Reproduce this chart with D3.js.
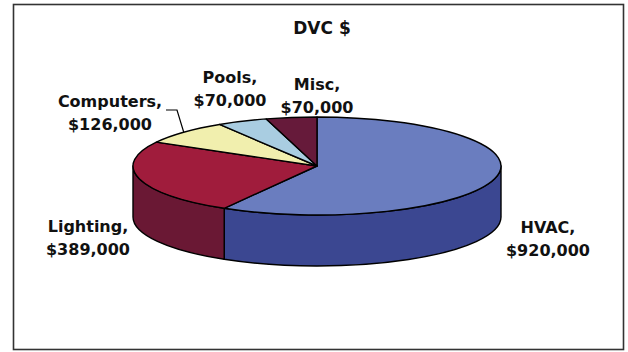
<!DOCTYPE html>
<html>
<head>
<meta charset="utf-8">
<script src="https://cdn.jsdelivr.net/npm/d3@7"></script>
<style>
  html, body { margin: 0; padding: 0; background: #fff; }
  svg { display: block; }
  text { font-family: "DejaVu Sans", Verdana, sans-serif; font-weight: bold; fill: #111; }
</style>
</head>
<body>
<svg id="chart" width="628" height="352"></svg>
<script>
// Energy spend by end use
const categories = ["HVAC", "Lighting", "Computers", "Pools", "Misc"];
const values = [920000, 389000, 126000, 70000, 70000];
const topColors = ["#6a7dbf", "#a01c3c", "#f1efae", "#a9cde1", "#661a3a"];
const sideColors = ["#3b4791", "#6a1834", "#b8b67a", "#7796a8", "#4a1029"];
const title = "DVC $";

const W = 628, H = 352;
const svg = d3.select("#chart");

// frame around the chart
svg.append("rect")
  .attr("x", 13.5).attr("y", 4.5)
  .attr("width", 610).attr("height", 345)
  .attr("fill", "#fff")
  .attr("stroke", "#333").attr("stroke-width", 1.6);

svg.append("text")
  .attr("x", 322).attr("y", 34)
  .attr("text-anchor", "middle")
  .style("font-size", "17px")
  .text(title);

// 3-D pie geometry
const cx = 317, cy = 166, rx = 184, ry = 49, depth = 51;

const pie = d3.pie().sort(null).startAngle(0).endAngle(2 * Math.PI);
const arcs = pie(values);

const color = d3.scaleOrdinal().domain(categories).range(topColors);
const sideColor = d3.scaleOrdinal().domain(categories).range(sideColors);

const pt = (a, dy = 0) => [cx + rx * Math.sin(a), cy - ry * Math.cos(a) + dy];

// outer walls: only the front half (angles π/2 .. 3π/2) faces the viewer
const walls = svg.append("g");
arcs.forEach((d, i) => {
  const a0 = Math.max(d.startAngle, Math.PI / 2);
  const a1 = Math.min(d.endAngle, 3 * Math.PI / 2);
  if (a1 <= a0) return;
  const [x0, y0] = pt(a0), [x1, y1] = pt(a1);
  const [bx1, by1] = pt(a1, depth), [bx0, by0] = pt(a0, depth);
  const path = `M${x0},${y0} A${rx},${ry} 0 0 1 ${x1},${y1} L${bx1},${by1} A${rx},${ry} 0 0 0 ${bx0},${by0} Z`;
  walls.append("path")
    .attr("d", path)
    .attr("fill", sideColor(categories[i]))
    .attr("stroke", "#000")
    .attr("stroke-width", 1.4)
    .attr("stroke-linejoin", "round");
});

// top faces
const topG = svg.append("g");
arcs.forEach((d, i) => {
  const [x0, y0] = pt(d.startAngle), [x1, y1] = pt(d.endAngle);
  const large = d.endAngle - d.startAngle > Math.PI ? 1 : 0;
  const path = `M${cx},${cy} L${x0},${y0} A${rx},${ry} 0 ${large} 1 ${x1},${y1} Z`;
  topG.append("path")
    .attr("d", path)
    .attr("fill", color(categories[i]))
    .attr("stroke", "#000")
    .attr("stroke-width", 1.4)
    .attr("stroke-linejoin", "round");
});

// data labels: "Name," over the dollar value
const fmt = d3.format("$,");
const labelPos = [[548, 233], [88, 232], [110, 107], [230, 83], [317, 90]];
const labels = svg.append("g").style("font-size", "16px");
arcs.forEach((d, i) => {
  const t = labels.append("text")
    .attr("x", labelPos[i][0]).attr("y", labelPos[i][1])
    .attr("text-anchor", "middle");
  t.append("tspan").attr("x", labelPos[i][0]).text(categories[i] + ",");
  t.append("tspan").attr("x", labelPos[i][0]).attr("dy", 22.5).text(fmt(d.data));
});

// leader line from the Computers label to the middle of its slice edge
const comp = arcs[2];
const [ex, ey] = pt((comp.startAngle + comp.endAngle) / 2);
svg.append("path")
  .attr("d", `M166,110 L177,110 L${ex},${ey}`)
  .attr("fill", "none")
  .attr("stroke", "#000")
  .attr("stroke-width", 1.2);
</script>
</body>
</html>
